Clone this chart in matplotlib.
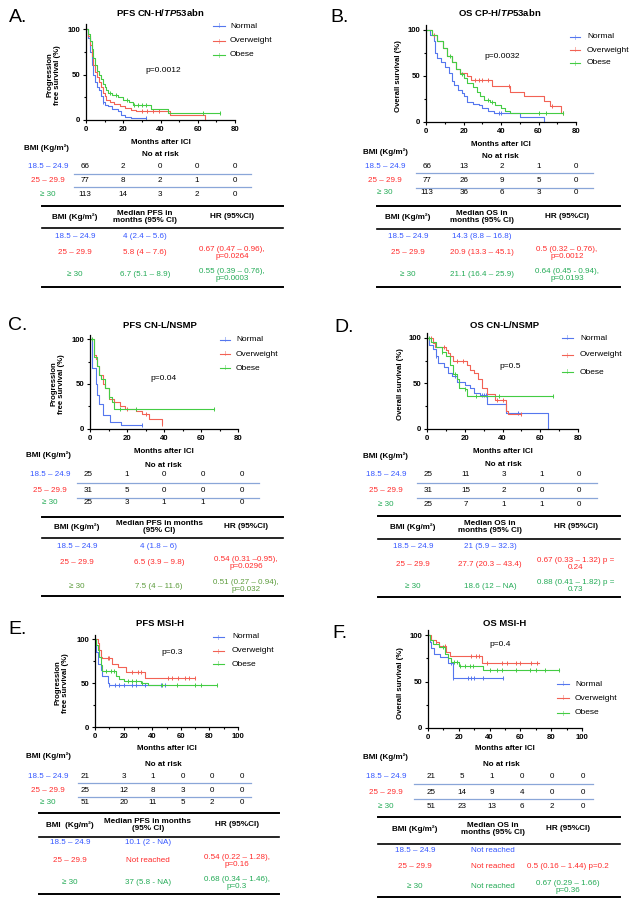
import numpy as np
import matplotlib.pyplot as plt
from matplotlib.lines import Line2D

plt.rcParams['font.family'] = ['Liberation Sans', 'DejaVu Sans']
plt.rcParams['mathtext.fontset'] = 'custom'
plt.rcParams['mathtext.it'] = 'Liberation Sans:italic:bold'
plt.rcParams['mathtext.rm'] = 'Liberation Sans:bold'

# ---------------- data ----------------
groups = ['Normal', 'Overweight', 'Obese']
bmi_labels = ['18.5 – 24.9', '25 – 29.9', '≥ 30']

# A. PFS CN-H/TP53abn  (times in months, survival in %)
a_norm_t = [0, 1, 2, 3, 4, 5, 6, 7, 8, 9, 10, 12, 14, 17, 19, 21, 24, 32]
a_norm_s = [100, 90, 75, 60, 50, 42, 36, 33, 26, 20, 17, 15, 12, 10, 6, 3, 2, 2]
a_norm_c = [9, 32]
a_over_t = [0, 1, 2, 3, 4, 5, 6, 7, 8, 9, 10, 11, 13, 15, 18, 21, 24, 27, 45, 64]
a_over_s = [100, 92, 82, 70, 60, 53, 47, 42, 36, 30, 26, 22, 20, 18, 15, 13, 11, 10, 5, 0]
a_over_c = [30, 33, 36, 39]
a_obes_t = [0, 1, 2, 3, 4, 5, 6, 7, 8, 9, 10, 11, 12, 14, 17, 20, 23, 25, 35, 44, 72]
a_obes_s = [100, 95, 87, 78, 68, 60, 54, 50, 45, 40, 36, 33, 30, 28, 25, 22, 20, 17, 12, 8, 8]
a_obes_c = [13, 16, 22, 26, 28, 30, 32, 63, 72]

# B. OS CP-H/TP53abn
b_norm_t = [0, 2, 4, 5, 6, 8, 10, 12, 14, 15, 17, 19, 20, 22, 25, 28, 30, 33, 36, 50, 63]
b_norm_s = [100, 95, 88, 75, 70, 65, 60, 53, 45, 40, 35, 32, 28, 22, 20, 18, 15, 12, 10, 5, 0]
b_norm_c = [39, 40]
b_over_t = [0, 3, 6, 9, 11, 14, 16, 18, 22, 24, 35, 45, 52, 63, 66, 72, 73]
b_over_s = [100, 95, 88, 80, 72, 65, 58, 53, 50, 46, 39, 33, 28, 23, 17, 10, 10]
b_over_c = [4, 26, 28, 30, 33, 44, 67, 73]
b_obes_t = [0, 3, 6, 9, 11, 14, 16, 18, 20, 22, 25, 27, 29, 31, 34, 37, 40, 42, 45, 73]
b_obes_s = [100, 95, 88, 80, 72, 65, 58, 52, 48, 42, 38, 33, 28, 24, 22, 18, 15, 12, 10, 10]
b_obes_c = [13, 19, 33, 35, 60, 64, 73]

# C. PFS CN-L/NSMP
c_norm_t = [0, 1, 3, 4, 5, 7, 11, 17, 28]
c_norm_s = [100, 68, 50, 38, 28, 16, 8, 4, 4]
c_norm_c = [28]
c_over_t = [0, 2, 3, 4, 5, 7, 8, 10, 13, 16, 19, 25, 28, 32, 39]
c_over_s = [100, 82, 78, 70, 60, 50, 45, 33, 30, 25, 22, 20, 17, 11, 6]
c_over_c = [12, 20, 30, 39]
c_obes_t = [0, 2, 4, 5, 6, 8, 10, 12, 13, 67]
c_obes_s = [100, 80, 70, 60, 55, 45, 35, 30, 22, 22]
c_obes_c = [1, 10, 16, 25, 67]

# D. OS CN-L/NSMP
d_norm_t = [0, 1, 3, 5, 6, 9, 11, 13, 16, 20, 23, 25, 28, 32, 42, 64]
d_norm_s = [100, 92, 88, 80, 72, 68, 62, 58, 52, 48, 45, 40, 37, 27, 18, 0]
d_norm_c = [5, 15, 29, 30, 31, 48]
d_over_t = [0, 3, 4, 10, 11, 12, 14, 19, 21, 23, 25, 27, 29, 32, 36, 42, 43, 50]
d_over_s = [100, 95, 90, 87, 83, 80, 75, 75, 70, 65, 62, 55, 45, 38, 32, 20, 16, 16]
d_over_c = [2, 9, 12, 16, 19, 37, 40, 50]
d_obes_t = [0, 2, 5, 8, 10, 12, 14, 16, 17, 20, 21, 67]
d_obes_s = [100, 96, 90, 85, 80, 70, 60, 55, 45, 44, 36, 36]
d_obes_c = [1, 8, 15, 20, 26, 38, 67]

# E. PFS MSI-H
e_norm_t = [0, 1, 2, 4, 5, 9, 10, 49]
e_norm_s = [100, 85, 72, 65, 58, 50, 48, 48]
e_norm_c = [10, 14, 17, 20, 26, 29, 35, 46, 49]
e_over_t = [0, 2, 3, 4, 5, 12, 16, 22, 35, 70]
e_over_s = [100, 95, 88, 80, 78, 72, 68, 63, 56, 56]
e_over_c = [9, 10, 26, 30, 32, 51, 54, 58, 63, 66, 70]
e_obes_t = [0, 1, 2, 3, 4, 5, 15, 17, 20, 32, 37, 85]
e_obes_s = [100, 93, 88, 80, 70, 64, 58, 55, 52, 50, 48, 48]
e_obes_c = [8, 11, 13, 23, 26, 29, 33, 47, 57, 70, 74, 85]

# F. OS MSI-H
f_norm_t = [0, 1, 2, 4, 8, 13, 16, 49]
f_norm_s = [100, 92, 86, 80, 76, 70, 54, 54]
f_norm_c = [15, 16, 26, 28, 30, 36, 49]
f_over_t = [0, 2, 5, 7, 12, 14, 35, 72]
f_over_s = [100, 95, 92, 88, 82, 77, 70, 70]
f_over_c = [5, 11, 28, 31, 33, 38, 48, 51, 57, 60, 67, 71]
f_obes_t = [0, 1, 3, 7, 11, 13, 15, 20, 36, 85]
f_obes_s = [100, 95, 90, 87, 80, 75, 71, 67, 62, 62]
f_obes_c = [10, 17, 19, 21, 24, 27, 29, 40, 45, 48, 57, 66, 70, 76, 85]

p_values = ['p=0.0012', 'p=0.0032', 'p=0.04', 'p=0.5', 'p=0.3', 'p=0.4']

# numbers at risk
risk_A = [[66, 2, 0, 0, 0], [77, 8, 2, 1, 0], [113, 14, 3, 2, 0]]
risk_B = [[66, 13, 2, 1, 0], [77, 26, 9, 5, 0], [113, 36, 6, 3, 0]]
risk_C = [[25, 1, 0, 0, 0], [31, 5, 0, 0, 0], [25, 3, 1, 1, 0]]
risk_D = [[25, 11, 3, 1, 0], [31, 15, 2, 0, 0], [25, 7, 1, 1, 0]]
risk_E = [[21, 3, 1, 0, 0, 0], [25, 12, 8, 3, 0, 0], [51, 20, 11, 5, 2, 0]]
risk_F = [[21, 5, 1, 0, 0, 0], [25, 14, 9, 4, 0, 0], [51, 23, 13, 6, 2, 0]]

# medians and hazard ratios
med_A = ['4 (2.4 – 5.6)', '5.8 (4 – 7.6)', '6.7 (5.1 – 8.9)']
hr_A = ['', '0.67 (0.47 – 0.96),\np=0.0264', '0.55 (0.39 – 0.76),\np=0.0003']
med_B = ['14.3 (8.8 – 16.8)', '20.9 (13.3 – 45.1)', '21.1 (16.4 – 25.9)']
hr_B = ['', '0.5 (0.32 – 0.76),\np=0.0012', '0.64 (0.45 - 0.94),\np=0.0193']
med_C = ['4 (1.8 – 6)', '6.5 (3.9 – 9.8)', '7.5 (4 – 11.6)']
hr_C = ['', '0.54 (0.31 –0.95),\np=0.0296', '0.51 (0.27 – 0.94),\np=0.032']
med_D = ['21 (5.9 – 32.3)', '27.7 (20.3 – 43.4)', '18.6 (12 – NA)']
hr_D = ['', '0.67 (0.33 – 1.32) p =\n0.24', '0.88 (0.41 – 1.82) p =\n0.73']
med_E = ['10.1 (2 - NA)', 'Not reached', '37 (5.8 - NA)']
hr_E = ['', '0.54 (0.22 – 1.28),\np=0.16', '0.68 (0.34 – 1.46),\np=0.3']
med_F = ['Not reached', 'Not reached', 'Not reached']
hr_F = ['', '0.5 (0.16 – 1.44) p=0.2', '0.67 (0.29 – 1.66)\np=0.36']

# ---------------- styling ----------------
line_cols = ['#5577ee', '#f26255', '#44cc44']
text_cols = ['#3355ff', '#ff2a2a', '#22aa55']

W, H = 629, 899
fig = plt.figure(figsize=(W / 100, H / 100), dpi=100)


def T(x, y, s, **kw):
    kw.setdefault('ha', 'center')
    kw.setdefault('va', 'center')
    fig.text(x / W, 1 - y / H, s, **kw)


def L(x0, x1, y, **kw):
    fig.add_artist(Line2D([x0 / W, x1 / W], [1 - y / H, 1 - y / H],
                          transform=fig.transFigure, **kw))


def km(ax, t, s, cens, color):
    t = np.array(t)
    s = np.array(s)
    ax.step(t, s, where='post', color=color, lw=0.8, clip_on=False)
    ct = np.array(cens)
    idx = np.searchsorted(t, ct, side='right') - 1
    ax.plot(ct, s[idx], ls='none', marker='|', ms=3, mew=0.7,
            color=color, clip_on=False)


def panel(letter, title, curves, ylabel, pval, xmax, lay):
    x0, x1, zero, y100 = lay['ax']
    top = zero - 1.05 * (zero - y100)
    ax = fig.add_axes([x0 / W, 1 - zero / H, (x1 - x0) / W, (zero - top) / H])
    for (t, s, c), col in zip(curves, line_cols):
        km(ax, t, s, c, col)
    ax.set_xlim(0, xmax)
    ax.set_ylim(0, 105)
    ax.spines[['top', 'right']].set_visible(False)
    ax.spines[['left', 'bottom']].set_linewidth(0.9)
    ax.set_yticks([0, 50, 100])
    ax.set_yticks([25, 75], minor=True)
    ax.set_xticks(np.arange(0, xmax + 1, 20))
    ax.set_xticks(np.arange(10, xmax, 20), minor=True)
    ax.tick_params(labelsize=5.6, width=0.8, length=2.5, pad=1.5)
    ax.tick_params(which='minor', width=0.8, length=1.5)
    for lab in ax.get_xticklabels() + ax.get_yticklabels():
        lab.set_fontweight('bold')

    T(*lay['letter'], letter, fontsize=14)
    T(*lay['title'], title, fontsize=6.8, fontweight='bold')
    T((x0 + x1) / 2, lay['xlab'], 'Months after ICI', fontsize=5.7, fontweight='bold')
    T(*lay['ylab'], ylabel, fontsize=5.6, fontweight='bold', rotation=90,
      linespacing=1.1)
    T(*lay['p'], pval, fontsize=6)

    lx0, lx1, tx = lay['leg_x']
    for name, col, ly in zip(groups, line_cols, lay['leg_y']):
        L(lx0, lx1, ly, color=col, lw=0.8)
        T((lx0 + lx1) / 2, ly, '|', color=col, fontsize=3.5)
        T(tx, ly, name, fontsize=6, ha='left')


def risk_table(risk, lay):
    T(*lay['bmi'], 'BMI (Kg/m²)', fontsize=5.8, fontweight='bold')
    T(*lay['nar'], 'No at risk', fontsize=5.8, fontweight='bold')
    for row, lab, col, ry in zip(risk, bmi_labels, text_cols, lay['rows']):
        T(lay['lab_x'], ry, lab, color=col, fontsize=5.8)
        for v, nx in zip(row, lay['nums']):
            T(nx, ry, str(v), fontsize=5.8)
    for ly in lay['lines']:
        L(lay['line_x'][0], lay['line_x'][1], ly, color='#8aa6d8', lw=0.9)


def summary(med_head, meds, hrs, lay, cols=text_cols, bmi_head='BMI (Kg/m²)'):
    xa, xb = lay['x']
    L(xa, xb, lay['top'], color='black', lw=1.4)
    L(xa, xb, lay['hline'], color='black', lw=1.2)
    L(xa, xb, lay['bottom'], color='black', lw=1.4)
    cx = lay['cols']
    hy = lay['head']
    T(cx[0], hy, bmi_head, fontsize=5.9, fontweight='bold')
    T(cx[1], hy, med_head, fontsize=5.9, fontweight='bold', linespacing=1.1)
    T(cx[2], hy, 'HR (95%CI)', fontsize=5.9, fontweight='bold')
    for lab, m, h, col, ry in zip(bmi_labels, meds, hrs, cols, lay['rows']):
        T(cx[0], ry, lab, color=col, fontsize=5.8)
        T(cx[1], ry, m, color=col, fontsize=5.8)
        if h:
            T(cx[2], ry, h, color=col, fontsize=5.8, linespacing=1.15)


# ---------------- panels ----------------
panel('A.', 'PFS CN-H/$\\mathit{TP53}$abn',
      [(a_norm_t, a_norm_s, a_norm_c), (a_over_t, a_over_s, a_over_c),
       (a_obes_t, a_obes_s, a_obes_c)],
      'Progression\nfree survival (%)', p_values[0], 80,
      dict(ax=(86, 235, 120, 29), letter=(18, 17), title=(160, 13), xlab=142,
           ylab=(54, 75), p=(163, 70), leg_x=(213, 225, 230), leg_y=(26, 41, 55)))
risk_table(risk_A, dict(bmi=(46, 148), nar=(160, 155), rows=(167, 180, 194), lab_x=48,
                        nums=(85, 123, 160, 197, 235), lines=(174, 187), line_x=(74, 251)))
summary('Median PFS in\nmonths (95% CI)', med_A, hr_A,
        dict(x=(42, 283), top=206, head=217, hline=228, rows=(236, 253, 275),
             bottom=287, cols=(75, 145, 232)))

panel('B.', 'OS CP-H/$\\mathit{TP53}$abn',
      [(b_norm_t, b_norm_s, b_norm_c), (b_over_t, b_over_s, b_over_c),
       (b_obes_t, b_obes_s, b_obes_c)],
      'Overall survival (%)', p_values[1], 80,
      dict(ax=(426, 576, 122, 30), letter=(340, 17), title=(500, 13), xlab=144,
           ylab=(399, 76), p=(502, 56), leg_x=(570, 580, 587), leg_y=(37, 50, 63)))
risk_table(risk_B, dict(bmi=(385, 152), nar=(500, 157), rows=(166, 180, 193), lab_x=385,
                        nums=(427, 464, 502, 539, 576), lines=(173, 188), line_x=(416, 593)))
summary('Median OS in\nmonths (95% CI)', med_B, hr_B,
        dict(x=(377, 620), top=206, head=217, hline=229, rows=(236, 253, 275),
             bottom=287, cols=(408, 482, 567)))

panel('C.', 'PFS CN-L/NSMP',
      [(c_norm_t, c_norm_s, c_norm_c), (c_over_t, c_over_s, c_over_c),
       (c_obes_t, c_obes_s, c_obes_c)],
      'Progression\nfree survival (%)', p_values[2], 80,
      dict(ax=(90, 238, 429, 339), letter=(18, 325), title=(160, 325), xlab=452,
           ylab=(58, 384), p=(163, 379), leg_x=(220, 230, 236), leg_y=(340, 354, 368)))
risk_table(risk_C, dict(bmi=(48, 455), nar=(163, 465), rows=(475, 490, 503), lab_x=50,
                        nums=(88, 127, 164, 203, 242), lines=(483, 498), line_x=(77, 259)))
summary('Median PFS in months\n(95% CI)', med_C, hr_C,
        dict(x=(42, 283), top=517, head=527, hline=538, rows=(546, 563, 586),
             bottom=596, cols=(77, 159, 246)),
        cols=[text_cols[0], text_cols[1], '#5b9b3b'])

panel('D.', 'OS CN-L/NSMP',
      [(d_norm_t, d_norm_s, d_norm_c), (d_over_t, d_over_s, d_over_c),
       (d_obes_t, d_obes_s, d_obes_c)],
      'Overall survival (%)', p_values[3], 80,
      dict(ax=(427, 578, 429, 338), letter=(344, 327), title=(505, 325), xlab=452,
           ylab=(400, 384), p=(510, 366), leg_x=(562, 573, 580), leg_y=(338, 355, 372)))
risk_table(risk_D, dict(bmi=(385, 456), nar=(503, 464), rows=(475, 490, 504), lab_x=386,
                        nums=(428, 466, 504, 542, 579), lines=(483, 498), line_x=(417, 597)))
summary('Median OS in\nmonths (95% CI)', med_D, hr_D,
        dict(x=(378, 620), top=516, head=527, hline=539, rows=(546, 564, 586),
             bottom=597, cols=(413, 490, 576)))

panel('E.', 'PFS MSI-H',
      [(e_norm_t, e_norm_s, e_norm_c), (e_over_t, e_over_s, e_over_c),
       (e_obes_t, e_obes_s, e_obes_c)],
      'Progression\nfree survival (%)', p_values[4], 100,
      dict(ax=(95, 238, 727, 639), letter=(18, 630), title=(160, 623), xlab=748,
           ylab=(62, 683), p=(172, 653), leg_x=(213, 224, 232), leg_y=(637, 651, 664)))
risk_table(risk_E, dict(bmi=(48, 756), nar=(163, 764), rows=(776, 791, 803), lab_x=48,
                        nums=(85, 124, 153, 183, 212, 242), lines=(783, 797), line_x=(78, 251)))
summary('Median PFS in months\n(95% CI)', med_E, hr_E,
        dict(x=(39, 279), top=813, head=825, hline=837, rows=(843, 861, 883),
             bottom=894, cols=(70, 148, 237)), bmi_head='BMI  (Kg/m²)')

panel('F.', 'OS MSI-H',
      [(f_norm_t, f_norm_s, f_norm_c), (f_over_t, f_over_s, f_over_c),
       (f_obes_t, f_obes_s, f_obes_c)],
      'Overall survival (%)', p_values[5], 100,
      dict(ax=(428, 582, 728, 635), letter=(340, 633), title=(505, 623), xlab=748,
           ylab=(400, 683), p=(500, 645), leg_x=(557, 569, 575), leg_y=(684, 698, 713)))
risk_table(risk_F, dict(bmi=(385, 757), nar=(501, 765), rows=(777, 792, 807), lab_x=386,
                        nums=(431, 462, 492, 522, 552, 583), lines=(784, 799), line_x=(414, 593)))
summary('Median OS in\nmonths (95% CI)', med_F, hr_F,
        dict(x=(378, 620), top=817, head=829, hline=844, rows=(851, 867, 887),
             bottom=897, cols=(415, 493, 568)))

fig.savefig('out.png', dpi=100)
